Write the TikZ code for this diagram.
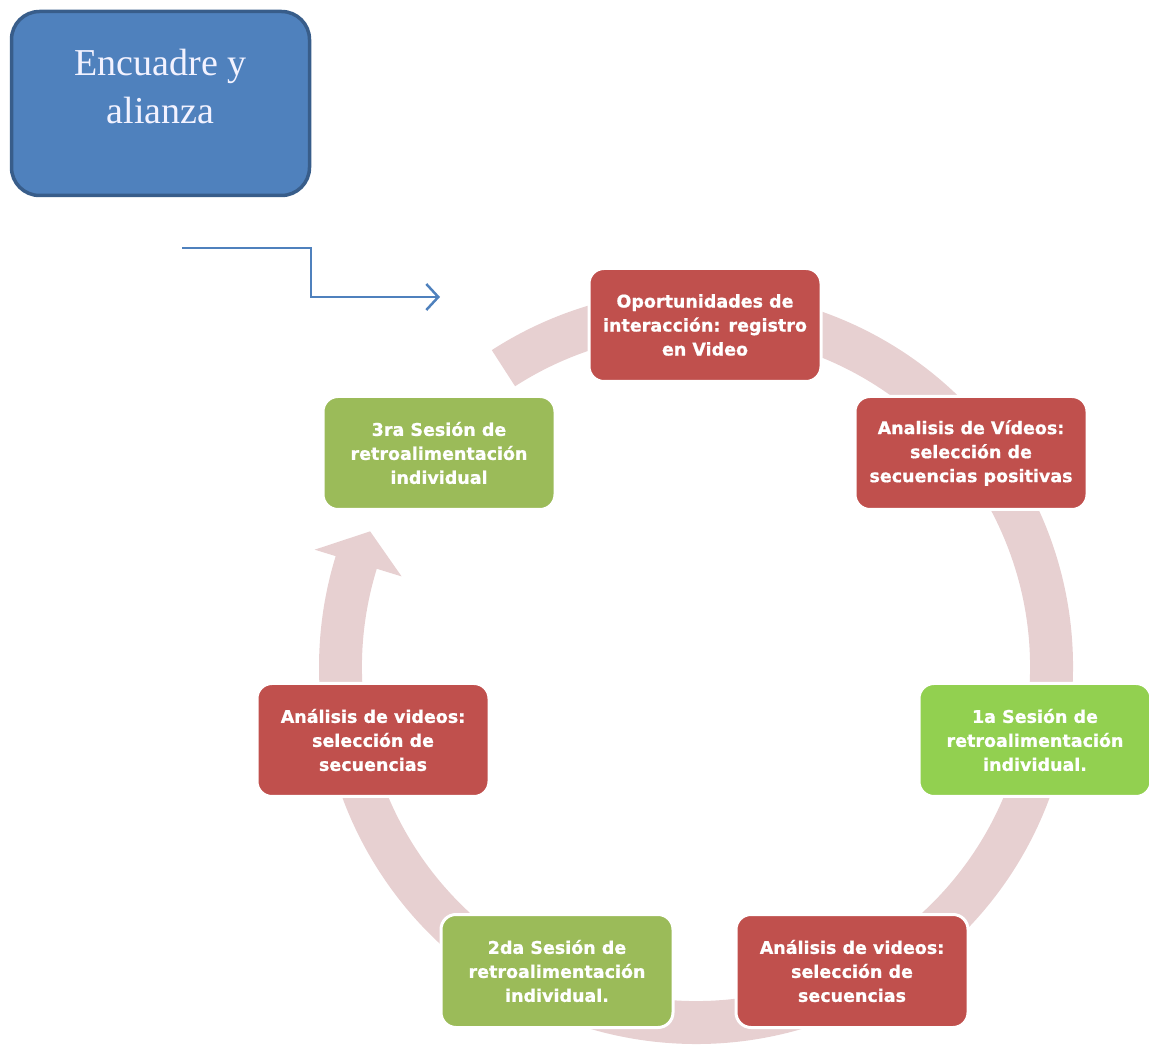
\documentclass[tikz,border=0pt]{standalone}
\usepackage{fontspec}
\setmainfont{Liberation Serif}
\newfontfamily\boxfont{DejaVu Sans}[BoldFeatures={FakeBold=0.8}]
\usetikzlibrary{arrows.meta}
\definecolor{redbox}{RGB}{192,80,77}
\definecolor{greenA}{RGB}{155,187,89}
\definecolor{greenB}{RGB}{146,208,80}
\definecolor{ringc}{RGB}{231,208,209}
\definecolor{bluebox}{RGB}{79,129,189}
\definecolor{blueedge}{RGB}{56,93,138}
\tikzset{
  stage/.style={rounded corners=15pt, draw=white, line width=3pt, minimum width=232pt,
    minimum height=113pt, align=center, text=white,
    font=\boxfont\bfseries\fontsize{17.5}{24}\selectfont, inner sep=2pt},
  redstage/.style={stage, fill=redbox},
  greenstage/.style={stage, fill=greenA},
  limestage/.style={stage, fill=greenB},
}
\begin{document}
\begin{tikzpicture}[x=1pt,y=1pt]
\useasboundingbox (0,0) rectangle (1149,1045);
% ring arrow
\coordinate (C) at (696,378);
\fill[ringc] ([shift={(122.8:377)}]C) arc[start angle=122.8, end angle=-197.1, radius=377]
  -- ([shift={(-197.1:399)}]C) -- ([shift={(-202.6:353)}]C) -- ([shift={(-197.1:308)}]C)
  -- ([shift={(-197.1:334)}]C) arc[start angle=-197.1, end angle=122.8, radius=334] -- cycle;
% stages
\node[redstage] (s1) at (705,720) {Oportunidades de\\interacción: registro\\en Video};
\node[redstage] (s2) at (971,592) {Analisis de Vídeos:\\selección de\\secuencias positivas};
\node[limestage] (s3) at (1035,305) {1a Sesión de\\retroalimentación\\individual.};
\node[redstage] (s4) at (852,74) {Análisis de videos:\\selección de\\secuencias};
\node[greenstage] (s5) at (557,74) {2da Sesión de\\retroalimentación\\individual.};
\node[redstage] (s6) at (373,305) {Análisis de videos:\\selección de\\secuencias};
\node[greenstage] (s7) at (439,592) {3ra Sesión de\\retroalimentación\\individual};
% encuadre box
\node[rounded corners=28pt, fill=bluebox, draw=blueedge, line width=3.5pt,
  minimum width=298pt, minimum height=184pt] (enc) at (160.5,941.5) {};
\node[align=center, text=white!95!blue, font=\fontsize{38}{48}\selectfont] (enct) at (160.5,958) {Encuadre y\\alianza};
% connector
\coordinate (a0) at (182,797);
\coordinate (a1) at (311,797);
\coordinate (a2) at (311,748);
\coordinate (a3) at (440,748);
\draw[bluebox, line width=2.5pt, -{Straight Barb[length=12pt,width=26pt]}] (a0) -- (a1) -- (a2) -- (a3);
\end{tikzpicture}
\end{document}
